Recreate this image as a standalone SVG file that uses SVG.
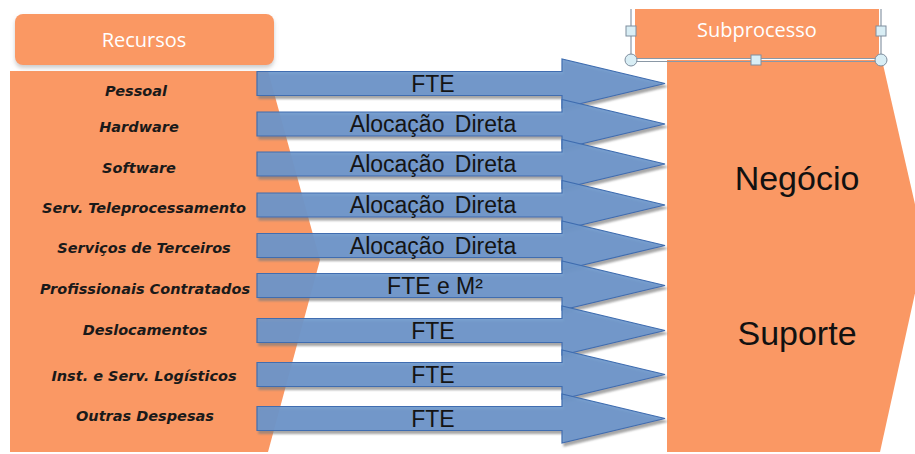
<svg xmlns="http://www.w3.org/2000/svg" width="915" height="454" viewBox="0 0 915 454">
<style>
.org{fill:#FA9864}
.hdrtxt{font-family:"Open Sans","Liberation Sans",sans-serif;font-size:20px;fill:#FFFFFF;text-anchor:middle}
.lbl{font-family:"DejaVu Sans",Verdana,sans-serif;font-size:14.5px;font-weight:bold;font-style:italic;fill:#1A1A1A;text-anchor:middle}
.arr{fill:#6C96CB;fill-opacity:0.9;stroke:#3F6DB0;stroke-width:1.2;filter:url(#sh)}
.atx{font-family:"Liberation Sans",Arial,sans-serif;font-size:23px;fill:#141414;text-anchor:middle}
.big{font-family:"Liberation Sans",Arial,sans-serif;font-size:34px;fill:#111;text-anchor:middle}
.hnd{fill:#D9EEF5;stroke:#7E8E9E;stroke-width:1}
</style>
<defs>
<filter id="sh" x="-5%" y="-20%" width="115%" height="150%">
<feDropShadow dx="2" dy="3" stdDeviation="1" flood-color="#7F7F7F" flood-opacity="0.75"/>
</filter>
<filter id="hs" x="-5%" y="-20%" width="110%" height="160%">
<feDropShadow dx="0" dy="3" stdDeviation="2" flood-color="#9A9A9A" flood-opacity="0.5"/>
</filter>
</defs>
<rect width="915" height="454" fill="#FFFFFF"/>

<g id="left-shape">
<polygon class="org" points="10,71 268,71 320,260 268,452 10,452"/>
</g>

<g id="right-shape">
<polygon class="org" points="667,60 882,60 925,248 880,452 667,452"/>
<text class="big" x="797" y="190">Negócio</text>
<text class="big" x="797" y="345">Suporte</text>
</g>

<g id="recursos">
<rect x="15" y="14" width="259" height="51" rx="8" class="org" filter="url(#hs)"/>
<text class="hdrtxt" x="144" y="46.5">Recursos</text>
</g>

<g id="subprocesso">
<path class="org" d="M635,9 H879 V53 Q879,59 873,59 H641 Q635,59 635,53 Z"/>
<text class="hdrtxt" x="757" y="37">Subprocesso</text>
<line x1="631" y1="9" x2="631" y2="60" stroke="#8A98A6" stroke-width="1.2"/>
<line x1="881" y1="9" x2="881" y2="60" stroke="#8A98A6" stroke-width="1.2"/>
<line x1="631" y1="58.5" x2="881" y2="58.5" stroke="#8A98A6" stroke-width="1"/>
<line x1="631" y1="61.5" x2="881" y2="61.5" stroke="#8A98A6" stroke-width="1"/>
<rect class="hnd" x="626" y="26" width="10" height="10"/>
<rect class="hnd" x="876" y="26" width="10" height="10"/>
<rect class="hnd" x="751" y="55" width="10" height="10"/>
<circle class="hnd" cx="631" cy="60" r="6"/>
<circle class="hnd" cx="881" cy="60" r="6"/>
</g>

<g id="resource-labels">
<text class="lbl" x="136" y="96">Pessoal</text>
<text class="lbl" x="139" y="132">Hardware</text>
<text class="lbl" x="139" y="173">Software</text>
<text class="lbl" x="144" y="213">Serv. Teleprocessamento</text>
<text class="lbl" x="144" y="253">Serviços de Terceiros</text>
<text class="lbl" x="145" y="294">Profissionais Contratados</text>
<text class="lbl" x="145" y="335">Deslocamentos</text>
<text class="lbl" x="144" y="381">Inst. e Serv. Logísticos</text>
<text class="lbl" x="145" y="421">Outras Despesas</text>
</g>

<g id="connectors">
<path class="arr" d="M257,71.5 H562 V59 L665,83.5 L562,108 V95.5 H257 Z"/>
<path class="arr" d="M257,112 H562 V99.5 L665,124 L562,148.5 V136 H257 Z"/>
<path class="arr" d="M257,152 H562 V139.5 L665,164 L562,188.5 V176 H257 Z"/>
<path class="arr" d="M257,193 H562 V180.5 L665,205 L562,229.5 V217 H257 Z"/>
<path class="arr" d="M257,233.5 H562 V221 L665,245.5 L562,270 V257.5 H257 Z"/>
<path class="arr" d="M257,273.5 H562 V261 L665,285.5 L562,310 V297.5 H257 Z"/>
<path class="arr" d="M257,318.5 H562 V306 L665,330.5 L562,355 V342.5 H257 Z"/>
<path class="arr" d="M257,362.5 H562 V350 L665,374.5 L562,399 V386.5 H257 Z"/>
<path class="arr" d="M257,406.5 H562 V394 L665,418.5 L562,443 V430.5 H257 Z"/>
<text class="atx" x="433" y="91.5">FTE</text>
<text class="atx" x="433" y="132" word-spacing="4">Alocação Direta</text>
<text class="atx" x="433" y="172" word-spacing="4">Alocação Direta</text>
<text class="atx" x="433" y="213" word-spacing="4">Alocação Direta</text>
<text class="atx" x="433" y="253.5" word-spacing="4">Alocação Direta</text>
<text class="atx" x="435" y="293.5">FTE e M²</text>
<text class="atx" x="433" y="338.5">FTE</text>
<text class="atx" x="433" y="382.5">FTE</text>
<text class="atx" x="433" y="426.5">FTE</text>
</g>
</svg>
